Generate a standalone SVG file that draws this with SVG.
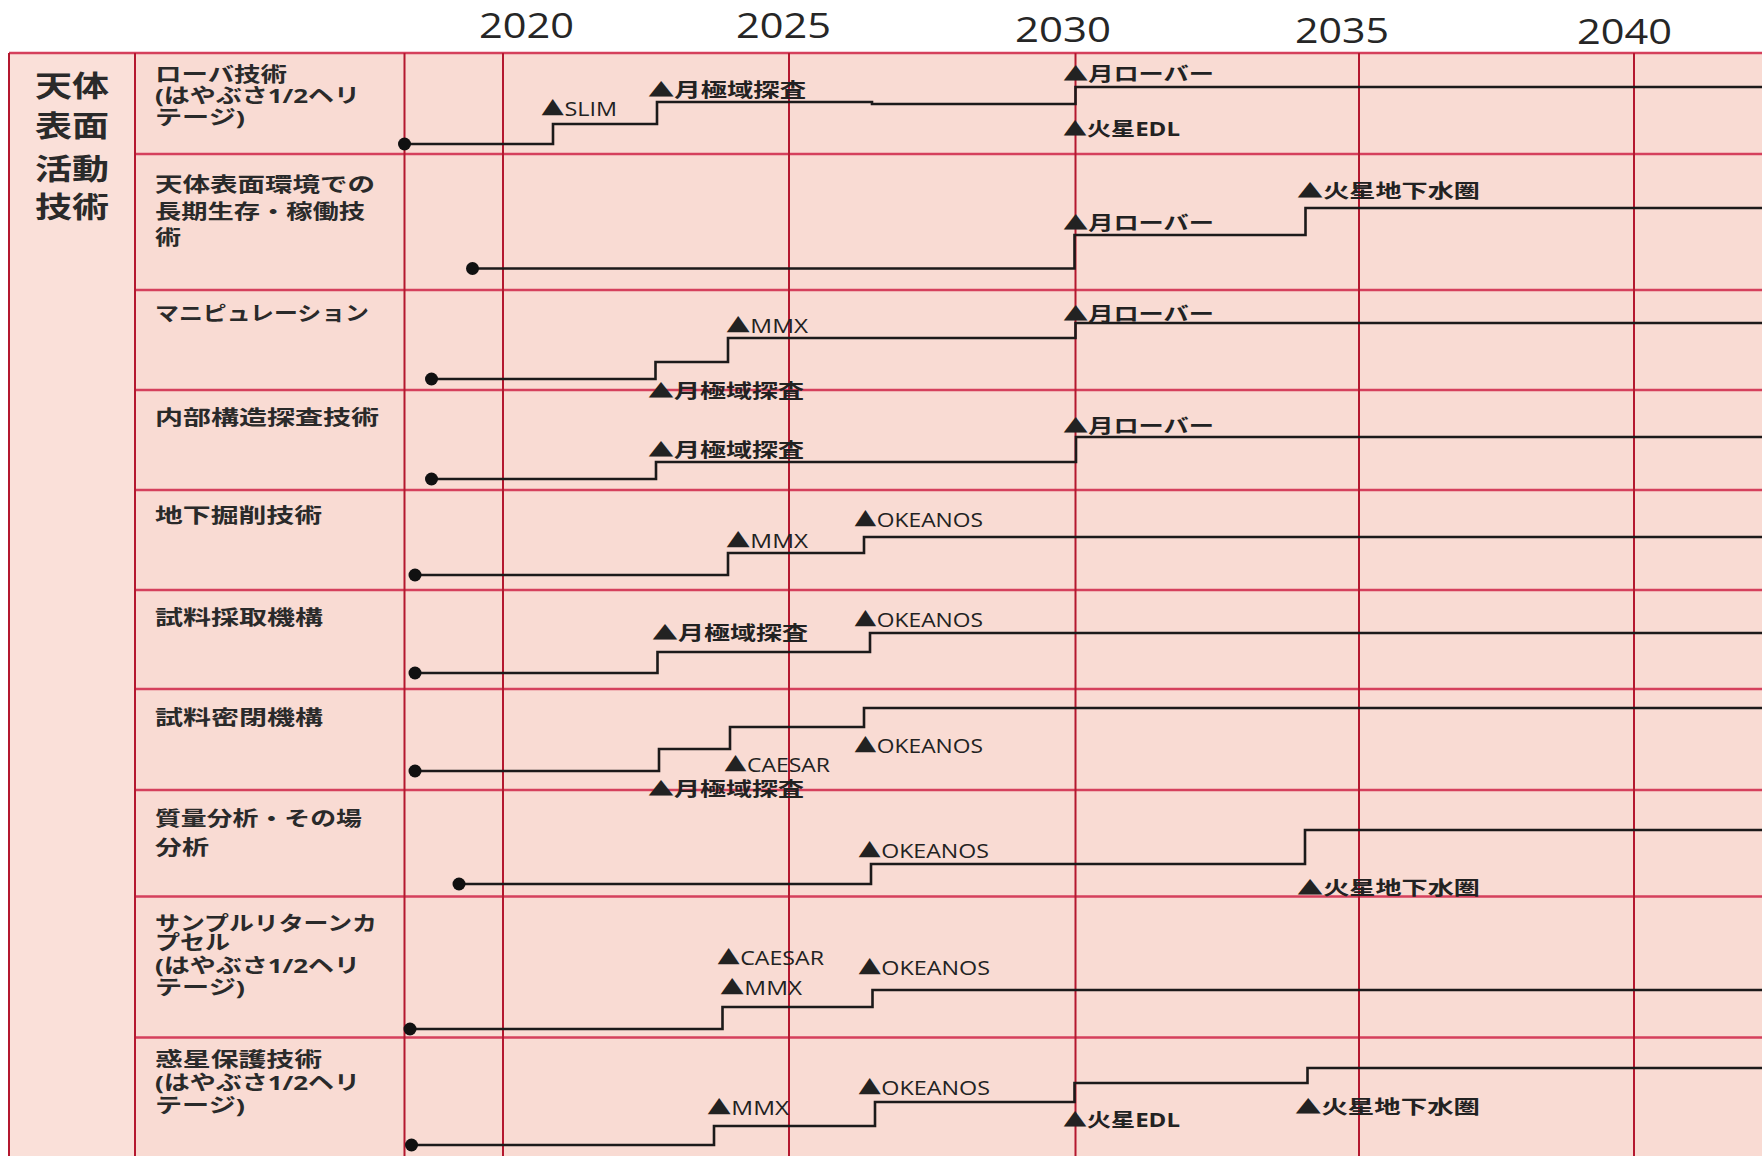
<svg xmlns="http://www.w3.org/2000/svg" width="1762" height="1156" viewBox="0 0 1762 1156">
<style>
.year{font-family:"Open Sans","Liberation Sans",sans-serif;font-size:34px;fill:#262626}
.cat{font-family:"Noto Sans CJK JP",sans-serif;font-size:29px;font-weight:700;fill:#2a2a2a}
.lbl{font-family:"Open Sans","Noto Sans CJK JP",sans-serif;font-size:20px;font-weight:700;fill:#2a2a2a}
.ms{font-family:"Open Sans","Noto Sans CJK JP",sans-serif;font-size:19px;font-weight:700;fill:#222}
.msl{font-family:"Open Sans","Noto Sans CJK JP",sans-serif;font-size:20px;font-weight:400;fill:#222}
.vg{stroke:#b4182f;stroke-width:2;fill:none}
.hg{stroke:#d5405c;stroke-width:2.5;fill:none}
.step{stroke:#1c1a1a;stroke-width:2.6;fill:none}
.dot{fill:#111}
</style>
<rect width="1762" height="1156" fill="#ffffff"/>
<g id="table">
<rect x="9" y="53" width="1753" height="1103" fill="#f9dbd3"/>
<rect x="9" y="53" width="126" height="1103" fill="#fae0d9"/>
<g id="hlines">
<path class="hg" d="M9,53H1762"/>
<path class="hg" d="M135,154H1762M135,290H1762M135,390H1762M135,490H1762M135,590H1762M135,689H1762M135,790H1762M135,896.5H1762M135,1037.5H1762"/>
</g>
<g id="vlines">
<path class="vg" d="M9,53V1156M135,53V1156M404.5,53V1156M503,53V1156M789,53V1156M1075.5,53V1156M1359,53V1156M1634,53V1156"/>
</g>
</g>
<g id="years">
<text class="year" x="479" y="38" textLength="95" lengthAdjust="spacingAndGlyphs">2020</text>
<text class="year" x="736" y="38" textLength="95" lengthAdjust="spacingAndGlyphs">2025</text>
<text class="year" x="1015" y="42" textLength="96" lengthAdjust="spacingAndGlyphs">2030</text>
<text class="year" x="1295" y="43" textLength="94" lengthAdjust="spacingAndGlyphs">2035</text>
<text class="year" x="1577" y="44" textLength="95" lengthAdjust="spacingAndGlyphs">2040</text>
</g>
<g id="category">
<text class="cat"><tspan x="35" y="97" textLength="74" lengthAdjust="spacingAndGlyphs">天体</tspan><tspan x="35" y="137" textLength="74" lengthAdjust="spacingAndGlyphs">表面</tspan><tspan x="35" y="180" textLength="74" lengthAdjust="spacingAndGlyphs">活動</tspan><tspan x="35" y="218" textLength="74" lengthAdjust="spacingAndGlyphs">技術</tspan></text>
</g>
<g id="connectors">
<path id="c1" class="step" d="M404.5,144H553V124H657V102H872V104H1075.5V87H1762"/>
<path id="c2" class="step" d="M472.5,268.5H1074.5V235H1305.5V208H1762"/>
<path id="c3" class="step" d="M431.5,379H655.5V362H728V338H1075.5V323H1762"/>
<path id="c4" class="step" d="M431.5,479H656V462H1076V437H1762"/>
<path id="c5" class="step" d="M415,575H728V553H864V537H1762"/>
<path id="c6" class="step" d="M415,673H657.5V652H870V633H1762"/>
<path id="c7" class="step" d="M415,771H659V749H730V727H864V708H1762"/>
<path id="c8" class="step" d="M459,884H871V864H1305V830H1762"/>
<path id="c9" class="step" d="M410,1029H722.5V1007H872.5V990H1762"/>
<path id="c10" class="step" d="M411.5,1145H714V1126H875V1102H1074.5V1083H1307.5V1068H1762"/>
</g>
<g id="row1">
<text class="lbl"><tspan x="155" y="82" textLength="132" lengthAdjust="spacingAndGlyphs">ローバ技術</tspan><tspan x="155" y="103" textLength="205" lengthAdjust="spacingAndGlyphs">(はやぶさ1/2ヘリ</tspan><tspan x="155" y="125" textLength="90" lengthAdjust="spacingAndGlyphs">テージ)</tspan></text>
<circle class="dot" cx="404.5" cy="144" r="6.5"/>
<text class="msl" x="541" y="116" font-size="16" textLength="76" lengthAdjust="spacingAndGlyphs">▲SLIM</text>
<text class="ms" x="648" y="97" textLength="158" lengthAdjust="spacingAndGlyphs">▲月極域探査</text>
<text class="ms" x="1063" y="81" textLength="151" lengthAdjust="spacingAndGlyphs">▲月ローバー</text>
<text class="ms" x="1063" y="136" textLength="117" lengthAdjust="spacingAndGlyphs">▲火星EDL</text>
</g>
<g id="row2">
<text class="lbl"><tspan x="155" y="192" textLength="220" lengthAdjust="spacingAndGlyphs">天体表面環境での</tspan><tspan x="155" y="219" textLength="210" lengthAdjust="spacingAndGlyphs">長期生存・稼働技</tspan><tspan x="155" y="245" textLength="26" lengthAdjust="spacingAndGlyphs">術</tspan></text>
<circle class="dot" cx="472.5" cy="268.5" r="6.5"/>
<text class="ms" x="1063" y="230" textLength="151" lengthAdjust="spacingAndGlyphs">▲月ローバー</text>
<text class="ms" x="1297" y="198" textLength="183" lengthAdjust="spacingAndGlyphs">▲火星地下水圏</text>
</g>
<g id="row3">
<text class="lbl" x="155" y="321" textLength="214" lengthAdjust="spacingAndGlyphs">マニピュレーション</text>
<circle class="dot" cx="431.5" cy="379" r="6.5"/>
<text class="msl" x="726" y="333" textLength="82" lengthAdjust="spacingAndGlyphs">▲MMX</text>
<text class="ms" x="648" y="398" textLength="156" lengthAdjust="spacingAndGlyphs">▲月極域探査</text>
<text class="ms" x="1063" y="321" textLength="151" lengthAdjust="spacingAndGlyphs">▲月ローバー</text>
</g>
<g id="row4">
<text class="lbl" x="155" y="425" textLength="224" lengthAdjust="spacingAndGlyphs">内部構造探査技術</text>
<circle class="dot" cx="431.5" cy="479" r="6.5"/>
<text class="ms" x="648" y="457" textLength="156" lengthAdjust="spacingAndGlyphs">▲月極域探査</text>
<text class="ms" x="1063" y="433" textLength="151" lengthAdjust="spacingAndGlyphs">▲月ローバー</text>
</g>
<g id="row5">
<text class="lbl" x="155" y="523" textLength="167" lengthAdjust="spacingAndGlyphs">地下掘削技術</text>
<circle class="dot" cx="415" cy="575" r="6.5"/>
<text class="msl" x="726" y="548" textLength="82" lengthAdjust="spacingAndGlyphs">▲MMX</text>
<text class="msl" x="854" y="527" textLength="129" lengthAdjust="spacingAndGlyphs">▲OKEANOS</text>
</g>
<g id="row6">
<text class="lbl" x="155" y="625" textLength="168" lengthAdjust="spacingAndGlyphs">試料採取機構</text>
<circle class="dot" cx="415" cy="673" r="6.5"/>
<text class="ms" x="652" y="640" textLength="156" lengthAdjust="spacingAndGlyphs">▲月極域探査</text>
<text class="msl" x="854" y="627" textLength="129" lengthAdjust="spacingAndGlyphs">▲OKEANOS</text>
</g>
<g id="row7">
<text class="lbl" x="155" y="725" textLength="168" lengthAdjust="spacingAndGlyphs">試料密閉機構</text>
<circle class="dot" cx="415" cy="771" r="6.5"/>
<text class="msl" x="854" y="753" textLength="129" lengthAdjust="spacingAndGlyphs">▲OKEANOS</text>
<text class="msl" x="724" y="772" textLength="106" lengthAdjust="spacingAndGlyphs">▲CAESAR</text>
<text class="ms" x="648" y="796" textLength="156" lengthAdjust="spacingAndGlyphs">▲月極域探査</text>
</g>
<g id="row8">
<text class="lbl"><tspan x="155" y="826" textLength="207" lengthAdjust="spacingAndGlyphs">質量分析・その場</tspan><tspan x="155" y="855" textLength="54" lengthAdjust="spacingAndGlyphs">分析</tspan></text>
<circle class="dot" cx="459" cy="884" r="6.5"/>
<text class="msl" x="858" y="858" textLength="131" lengthAdjust="spacingAndGlyphs">▲OKEANOS</text>
<text class="ms" x="1297" y="895" textLength="183" lengthAdjust="spacingAndGlyphs">▲火星地下水圏</text>
</g>
<g id="row9">
<text class="lbl"><tspan x="155" y="931" textLength="222" lengthAdjust="spacingAndGlyphs">サンプルリターンカ</tspan><tspan x="155" y="950" textLength="75" lengthAdjust="spacingAndGlyphs">プセル</tspan><tspan x="155" y="973" textLength="205" lengthAdjust="spacingAndGlyphs">(はやぶさ1/2ヘリ</tspan><tspan x="155" y="995" textLength="90" lengthAdjust="spacingAndGlyphs">テージ)</tspan></text>
<circle class="dot" cx="410" cy="1029" r="6.5"/>
<text class="msl" x="717" y="965" textLength="107" lengthAdjust="spacingAndGlyphs">▲CAESAR</text>
<text class="msl" x="720" y="995" textLength="82" lengthAdjust="spacingAndGlyphs">▲MMX</text>
<text class="msl" x="858" y="975" textLength="132" lengthAdjust="spacingAndGlyphs">▲OKEANOS</text>
</g>
<g id="row10">
<text class="lbl"><tspan x="155" y="1067" textLength="167" lengthAdjust="spacingAndGlyphs">惑星保護技術</tspan><tspan x="155" y="1090" textLength="205" lengthAdjust="spacingAndGlyphs">(はやぶさ1/2ヘリ</tspan><tspan x="155" y="1113" textLength="90" lengthAdjust="spacingAndGlyphs">テージ)</tspan></text>
<circle class="dot" cx="411.5" cy="1145" r="6.5"/>
<text class="msl" x="707" y="1115" textLength="82" lengthAdjust="spacingAndGlyphs">▲MMX</text>
<text class="msl" x="858" y="1095" textLength="132" lengthAdjust="spacingAndGlyphs">▲OKEANOS</text>
<text class="ms" x="1063" y="1127" textLength="117" lengthAdjust="spacingAndGlyphs">▲火星EDL</text>
<text class="ms" x="1295" y="1114" textLength="185" lengthAdjust="spacingAndGlyphs">▲火星地下水圏</text>
</g>
</svg>
